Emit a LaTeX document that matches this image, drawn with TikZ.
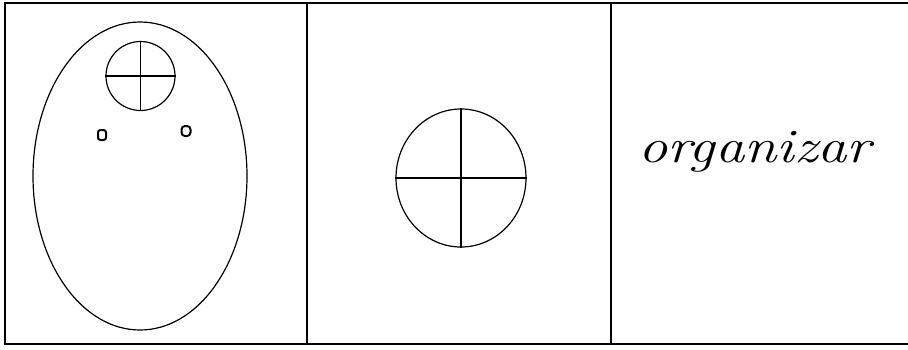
\documentclass[tikz,border=0pt]{standalone}
\usepackage{graphicx}
\usetikzlibrary{shapes.geometric, positioning}
\tikzstyle{frameline} = [line width=1.4pt, black]
\tikzstyle{face} = [ellipse, draw=black, line width=1.2pt, minimum width=214pt, minimum height=308pt, inner sep=0pt]
\tikzstyle{wheel} = [circle, draw=black, line width=1.2pt, inner sep=0pt]
\tikzstyle{spoke} = [line width=1.2pt, black]
\tikzstyle{eye} = [rectangle, rounded corners=2.5pt, draw=black, line width=2pt, minimum width=8pt, minimum height=10pt, inner sep=0pt]

\begin{document}
\begin{tikzpicture}[x=1pt, y=-1pt]
    \useasboundingbox (0,0) rectangle (908,349);

    % frame of the three cells
    \coordinate (tl) at (5,3);
    \coordinate (tr) at (908,3);
    \coordinate (bl) at (5,344);
    \coordinate (br) at (908,344);
    \coordinate (d1top) at (307,3);
    \coordinate (d1bot) at (307,344);
    \coordinate (d2top) at (611,3);
    \coordinate (d2bot) at (611,344);
    \draw [frameline] (tr) -- (tl) -- (bl) -- (br);
    \draw [frameline] (d1top) -- (d1bot);
    \draw [frameline] (d2top) -- (d2bot);

    % first cell: head with small wheel and eyes
    \node (head) [face] at (140,176) {};
    \node (smallwheel) [wheel, minimum size=69pt] at (140.5,76) {};
    \draw [spoke] (smallwheel.north) -- (smallwheel.south);
    \draw [spoke] (smallwheel.west) -- (smallwheel.east);
    \node (lefteye) [eye] at (102,135) {};
    \node (righteye) [eye, rounded corners=3.5pt, minimum width=9pt] at (186,131) {};

    % second cell: big wheel
    \node (bigwheel) [wheel, minimum width=130pt, minimum height=138pt, ellipse] at (461,178) {};
    \draw [spoke] (bigwheel.north) -- (bigwheel.south);
    \draw [spoke] (bigwheel.west) -- (bigwheel.east);

    % third cell: word
    \node (word) [anchor=base west, inner sep=0pt] at (638,162) {\scalebox{1.22}[1]{\fontsize{48}{50}\selectfont\itshape organizar}};
\end{tikzpicture}
\end{document}
